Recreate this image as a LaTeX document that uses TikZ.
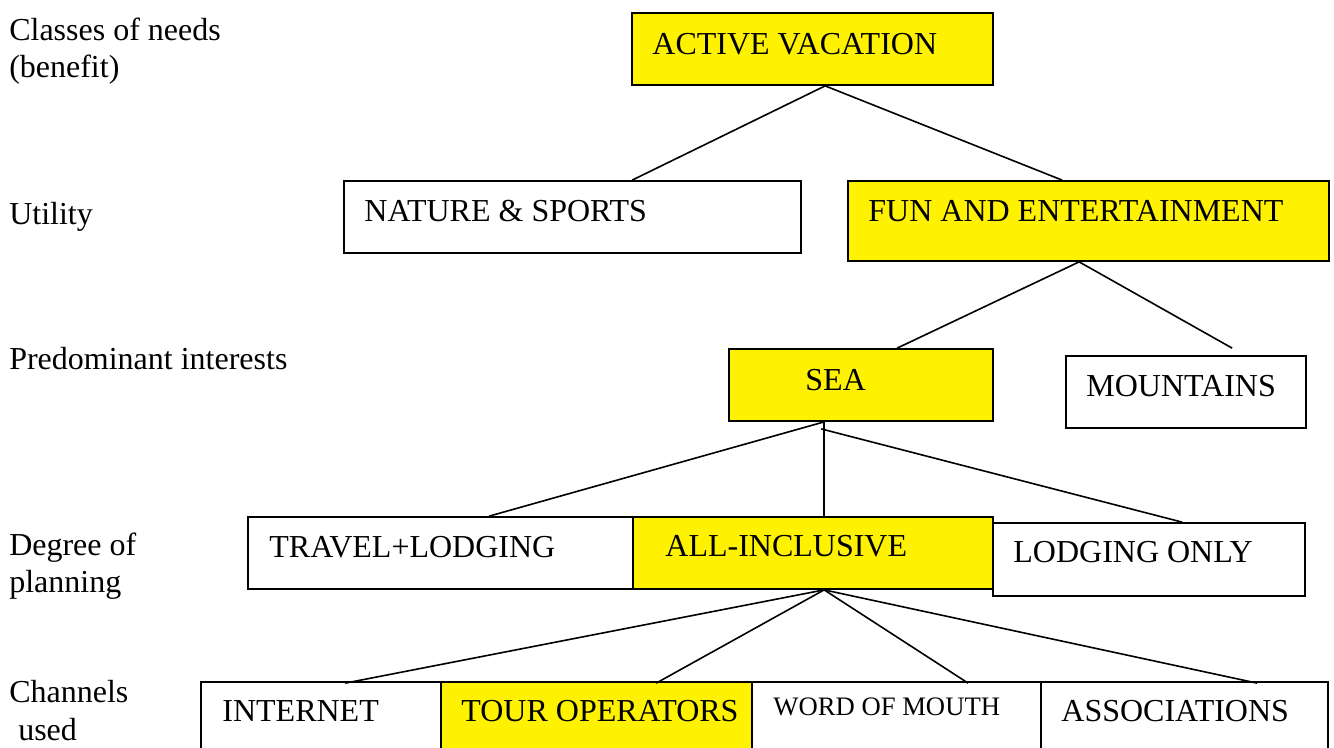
\documentclass[tikz,border=0pt]{standalone}
\usepackage{fontspec}
\setmainfont{Liberation Serif}
\usetikzlibrary{calc,fit}
\begin{document}
\begin{tikzpicture}[x=0.75pt,y=-0.75pt,
  box/.style={draw=black,line width=1.3pt,inner sep=0pt,fill=white},
  hot/.style={box,fill=yellow},
  txt/.style={anchor=base west,inner sep=0pt,font=\fontsize{24}{28}\selectfont},
  small/.style={txt,font=\fontsize{20}{24}\selectfont},
  link/.style={draw=black,line width=1.2pt}]
\useasboundingbox[fill=white] (0,0) rectangle (1334,747);

% level captions on the left
\node[txt] (c1a) at (9,40)  {Classes of needs};
\node[txt] (c1b) at (9,77)  {(benefit)};
\node[txt] (c2)  at (9,224) {Utility};
\node[txt] (c3)  at (9,369) {Predominant interests};
\node[txt] (c4a) at (9,555) {Degree of};
\node[txt] (c4b) at (9,592) {planning};
\node[txt] (c5a) at (9,702) {Channels};
\node[txt] (c5b) at (18,740) {used};

% boxes
\node[hot, fit={(632,13) (993,85)}]   (av)  {};
\node[box, fit={(344,181) (801,253)}] (nat) {};
\node[hot, fit={(848,181) (1329,261)}] (fun) {};
\node[hot, fit={(729,349) (993,421)}] (sea) {};
\node[box, fit={(1066,356) (1306,428)}] (mnt) {};
\node[box, fit={(248,517) (633,589)}] (trv) {};
\node[hot, fit={(633,517) (993,589)}] (all) {};
\node[box, fit={(993,523) (1305,596)}] (lod) {};
\node[box, fit={(201,682) (441,770)}] (int) {};
\node[hot, fit={(441,682) (752,770)}] (tour) {};
\node[box, fit={(752,682) (1041,770)}] (wom) {};
\node[box, fit={(1041,682) (1328,770)}] (asc) {};

% box texts
\node[txt] (av-t)   at ($(av.north west)+(21,42)$)   {ACTIVE VACATION};
\node[txt] (nat-t)  at ($(nat.north west)+(21,41)$)  {NATURE \& SPORTS};
\node[txt] (fun-t)  at ($(fun.north west)+(21,41)$)  {FUN AND ENTERTAINMENT};
\node[txt] (sea-t)  at ($(sea.north west)+(77,42)$)  {SEA};
\node[txt] (mnt-t)  at ($(mnt.north west)+(21,41)$)  {MOUNTAINS};
\node[txt] (trv-t)  at ($(trv.north west)+(22,41)$)  {TRAVEL+LODGING};
\node[txt] (all-t)  at ($(all.north west)+(33,40)$)  {ALL-INCLUSIVE};
\node[txt] (lod-t)  at ($(lod.north west)+(21,40)$)  {LODGING ONLY};
\node[txt] (int-t)  at ($(int.north west)+(22,40)$)  {INTERNET};
\node[txt] (tour-t) at ($(tour.north west)+(21,40)$) {TOUR OPERATORS};
\node[small] (wom-t) at ($(wom.north west)+(22,34)$) {WORD OF MOUTH};
\node[txt] (asc-t)  at ($(asc.north west)+(21,40)$)  {ASSOCIATIONS};

% branching points and free ends
\coordinate (av-b)  at ($(av.south west)+(194,0)$);
\coordinate (fun-b) at ($(fun.south west)+(232,0)$);
\coordinate (sea-b) at ($(sea.south west)+(96,0)$);
\coordinate (sea-r) at ($(sea.south west)+(93,7)$);
\coordinate (all-b) at ($(all.south west)+(192,0)$);
\coordinate (mnt-e) at ($(mnt.north west)+(167,-7)$);

% connectors
\draw[link] (av-b) -- ($(nat.north west)+(289,0)$);
\draw[link] (av-b) -- ($(fun.north west)+(215,0)$);
\draw[link] (fun-b) -- ($(sea.north west)+(169,0)$);
\draw[link] (fun-b) -- (mnt-e);
\draw[link] (sea-b) -- ($(trv.north west)+(242,0)$);
\draw[link] (sea-b) -- (sea-b |- all.north);
\draw[link] (sea-r) -- ($(lod.north west)+(190,0)$);
\draw[link] (all-b) -- ($(int.north west)+(145,2)$);
\draw[link] (all-b) -- ($(tour.north west)+(216,2)$);
\draw[link] (all-b) -- ($(wom.north west)+(217,2)$);
\draw[link] (all-b) -- ($(asc.north west)+(217,2)$);
\end{tikzpicture}
\end{document}
